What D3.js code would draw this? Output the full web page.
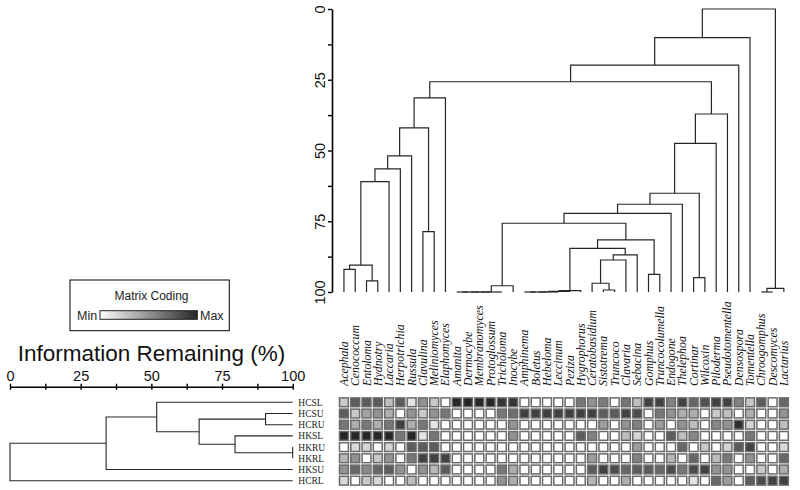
<!DOCTYPE html>
<html><head><meta charset="utf-8">
<script src="https://cdn.jsdelivr.net/npm/d3@7"></script>
<style>body{margin:0;background:#fff}</style>
</head><body><svg id="c" width="800" height="490"></svg>
<script>
const genera = ["Acephala","Cenococcum","Entoloma","Hydnotry","Laccaria","Herpotrichia","Russula","Clavulina","Meliniomyces","Elaphomyces","Amanita","Dermocybe","Membranomyces","Protoglossum","Tricholoma","Inocybe","Amphinema","Boletus","Hebeloma","Leccinum","Peziza","Hygrophorus","Ceratobasidium","Sistotrema","Truncoco","Clavaria","Sebacina","Gomphus","Truncocolumella","Endogone","Thelephoa","Cortinar","Wilcoxin","Piloderma","Pseudotomentella","Densospora","Tomentella","Chroogomphus","Descomyces","Lactarius"];
const samples = ["HCSL","HCSU","HCRU","HKSL","HKRU","HKRL","HKSU","HCRL"];

// matrix coding, 0 = min ... 4 = max
const HCSL = [1,3,3,3,1.2,3,0.5,2,1,0, 4,4,4,4,3.7,3.7,0,0,0,0, 0,2.5,2,2.4,0,2.5,1.2,3.5,3.5,2.3, 3.5,2.8,3.2,3.5,3.5,2.3,1,3,0,2.8];
const HCSU = [3,1,1.7,2,1.5,0,2,1,2,2.5, 0,0,0,0,2.5,2.7,3.5,3.5,3.5,3.5, 3.5,3.5,3.5,3,3,3.5,3.3,0,2.5,2, 1.5,1.5,0,1,1.2,0,1.5,0,0,2];
const HCRU = [2.5,1.5,2.5,1.5,2.5,3.5,1.5,2.5,0.5,0, 0,0,0,0,0,2,0,0,0,0, 0,0,0,1.8,0,2,2.3,0,1.8,0, 2,1.2,0,2.2,2,3.8,0.8,0,0,1.2];
const HKSL = [4,4,4,4,4,2.5,4,0.5,2.5,0, 0,0,0,0,0,2,0,0,0,0, 0,3,2.3,0,0,1.2,0.8,0,0,3, 1.2,2.2,0,0,0,0,2.5,0,0,0];
const HKRU = [0,0.7,0.8,0,0.8,0,3,3,3,0, 0,0,0,0,0,0,0,0,0,0, 0,0,0,0,0,0,1.8,0,0,0, 2.8,0,1,0,0.8,3,3.5,0,0,0.7];
const HKRL = [1.3,2,0,1,2,0,2.5,3.5,3.5,3.5, 0,0,0,0,0,0,0,0,0,0, 0,0,1.8,0,0,0,2.3,0,0,1.3, 0,2.8,0,1.2,2.5,0,2,0,0,2.8];
const HKSU = [2,2.8,2.2,2.8,3,2,0,2,1.3,3, 0,0,0,0,2.5,1.5,0,0,0,0, 0,0,3,3.5,3.3,2.8,3,3,2.8,3.3, 2.5,3.3,3.5,2,2,0,0,1,0,1.5];
const HCRL = [0.7,0,1,0.7,0,0,1.2,0,0,0, 0,0,0,0,2,1.5,0,0,0,0, 0,0,1.3,0,0,1.5,0,0,0,0, 0,0.5,0,2.8,1.8,0,3,3.3,3.5,3.5];

// merges: [left, right, information remaining %]; negative = leaf (1-based), positive = earlier merge
const colMerges = [
  [-1,-2,92.0],[-3,-4,96.1],[1,2,90.5],[3,-5,61.0],[4,-6,56.5],[5,-7,51.9],[-8,-9,78.7],[6,7,42.0],[8,-10,31.4],
  [-11,-12,100],[10,-13,100],[11,-14,100],[12,-15,100],[13,-16,97.8],
  [-17,-18,100],[15,-19,100],[16,-20,100],[17,-21,99.8],[18,-22,99.5],
  [-24,-25,99.3],[-23,20,96.9],[21,-26,88.7],[22,-27,86.9],[19,23,84.6],
  [-28,-29,93.8],[24,25,81.6],[14,26,75.7],[27,-30,72.2],[28,-31,69.0],
  [-32,-33,94.9],[29,30,65.1],[31,-34,47.5],[32,-35,37.1],[9,33,25.7],
  [34,-36,19.8],[35,-37,10.1],[-38,-39,100],[37,-40,98.7],[36,38,0]
];
const rowMerges = [
  [-2,-3,90.4],[-5,-6,100],[-4,2,79.6],[1,3,66.9],[-1,4,51.9],[5,-7,34.0],[6,-8,0]
];
const axisTicks = [0,12.5,25,37.5,50,62.5,75,87.5,100];
const axisLabels = [0,25,50,75,100];

const matrix = [HCSL,HCSU,HCRU,HKSL,HKRU,HKRL,HKSU,HCRL];

const svg = d3.select("#c");
const colX = d3.scaleBand().domain(genera).range([338.3, 789.5]);
const colH = d3.scaleLinear().domain([0,100]).range([9,292]);
const rowY = d3.scaleBand().domain(samples).range([396.7, 486.3]);
const rowH = d3.scaleLinear().domain([0,100]).range([10,292.7]);
const shade = d3.scaleLinear().domain([0,4]).range(["#ffffff","#262626"]);
const sans = "'Liberation Sans', Arial, sans-serif";
const serif = "'Liberation Serif', 'Times New Roman', serif";

function segments(merges, leafPos) {
  const nodes = [], segs = [];
  const get = i => i < 0 ? {pos: leafPos(-i - 1), h: 100} : nodes[i - 1];
  merges.forEach(([a, b, h]) => {
    const A = get(a), B = get(b);
    segs.push({A, B, h});
    nodes.push({pos: (A.pos + B.pos) / 2, h});
  });
  return segs;
}

// top dendrogram
const colSegs = segments(colMerges, i => colX(genera[i]) + colX.bandwidth() / 2);
svg.append("g").selectAll("path").data(colSegs).join("path")
  .attr("d", s => `M${s.A.pos},${colH(s.A.h)}V${colH(s.h)}H${s.B.pos}V${colH(s.B.h)}`)
  .attr("fill", "none").attr("stroke", "#262626").attr("stroke-width", 1.2);

// top axis
const ga = svg.append("g").attr("transform", "translate(332,0)")
  .call(d3.axisLeft(colH).tickValues(axisTicks).tickSizeInner(4).tickSizeOuter(0)
    .tickFormat(d => axisLabels.includes(d) ? d : ""));
ga.select(".domain").attr("stroke", "#000").attr("stroke-width", 1.6);
ga.selectAll(".tick line").attr("stroke-width", 1.4);
ga.selectAll(".tick text").attr("x", 0).attr("dy", 0).attr("text-anchor", "middle")
  .attr("transform", "translate(-7,0) rotate(-90)")
  .attr("font-family", sans).attr("font-size", 14.5).attr("fill", "#111");

// column labels
svg.append("g").selectAll("text").data(genera).join("text")
  .attr("transform", d => `translate(${colX(d) + colX.bandwidth() / 2 + 4},386) rotate(-90)`)
  .attr("text-anchor", "start")
  .attr("font-family", serif).attr("font-style", "italic").attr("font-size", 11.8).attr("fill", "#111")
  .text(d => d);

// heatmap
const cells = [];
matrix.forEach((row, r) => row.forEach((v, c) => cells.push({s: samples[r], g: genera[c], v})));
svg.append("g").selectAll("rect").data(cells).join("rect")
  .attr("x", d => colX(d.g) + 1.2).attr("y", d => rowY(d.s) + 1.2)
  .attr("width", colX.bandwidth() - 2.4).attr("height", rowY.bandwidth() - 2.4)
  .attr("fill", d => shade(d.v)).attr("stroke", "#6a6a6a").attr("stroke-width", 1.5);

// left dendrogram
const rowSegs = segments(rowMerges, i => rowY(samples[i]) + rowY.bandwidth() / 2);
svg.append("g").selectAll("path").data(rowSegs).join("path")
  .attr("d", s => `M${rowH(s.A.h)},${s.A.pos}H${rowH(s.h)}V${s.B.pos}H${rowH(s.B.h)}`)
  .attr("fill", "none").attr("stroke", "#262626").attr("stroke-width", 1.1);

// row labels
svg.append("g").selectAll("text").data(samples).join("text")
  .attr("x", 298.3).attr("y", d => rowY(d) + rowY.bandwidth() / 2 + 3.5)
  .attr("font-family", serif).attr("font-size", 9.5).attr("fill", "#222")
  .text(d => d);

// left axis
const gl = svg.append("g").attr("transform", "translate(0,386.7)")
  .call(d3.axisTop(rowH).tickValues(axisTicks).tickSizeInner(3).tickSizeOuter(0).tickPadding(3)
    .tickFormat(d => axisLabels.includes(d) ? d : ""));
gl.select(".domain").attr("stroke", "#000").attr("stroke-width", 1.6);
gl.selectAll(".tick line").attr("y1", 3).attr("stroke-width", 1.4);
gl.selectAll(".tick text").attr("font-family", sans).attr("font-size", 14.5).attr("fill", "#111");

svg.append("text").attr("x", 151.5).attr("y", 361).attr("text-anchor", "middle")
  .attr("font-family", sans).attr("font-size", 22.5).attr("fill", "#111")
  .text("Information Remaining (%)");

// legend
const defs = svg.append("defs");
const lg = defs.append("linearGradient").attr("id", "grad");
lg.append("stop").attr("offset", "0%").attr("stop-color", shade(0));
lg.append("stop").attr("offset", "100%").attr("stop-color", shade(4));
const leg = svg.append("g");
leg.append("rect").attr("x", 70).attr("y", 280).attr("width", 159.3).attr("height", 50.7)
  .attr("fill", "#fff").attr("stroke", "#000").attr("stroke-width", 1);
leg.append("text").attr("x", 151.5).attr("y", 299.5).attr("text-anchor", "middle")
  .attr("font-family", sans).attr("font-size", 12).attr("fill", "#222").text("Matrix Coding");
leg.append("text").attr("x", 77).attr("y", 320).attr("font-family", sans).attr("font-size", 12.5)
  .attr("fill", "#222").text("Min");
leg.append("rect").attr("x", 100).attr("y", 310.7).attr("width", 97.3).attr("height", 8.6)
  .attr("fill", "url(#grad)").attr("stroke", "#222").attr("stroke-width", 1);
leg.append("text").attr("x", 200).attr("y", 320).attr("font-family", sans).attr("font-size", 12.5)
  .attr("fill", "#222").text("Max");
</script></body></html>
